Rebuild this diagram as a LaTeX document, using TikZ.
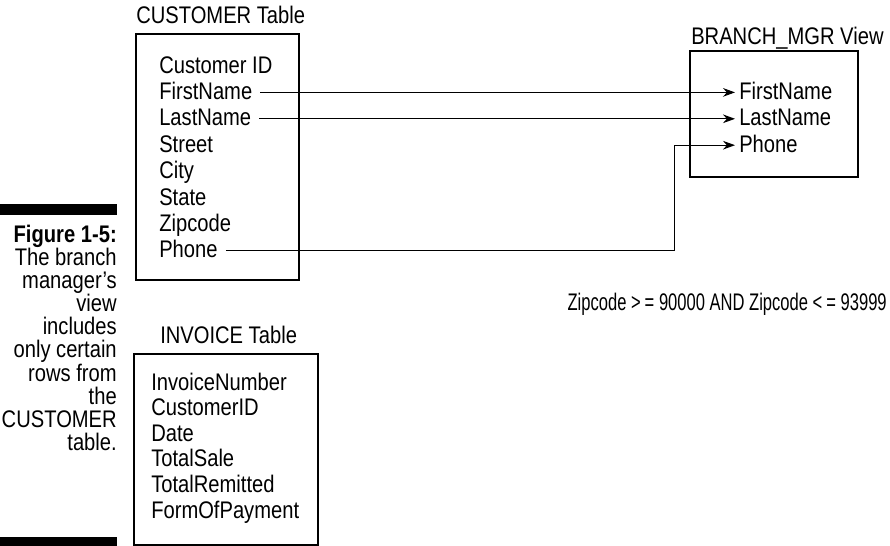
\documentclass[tikz,border=0pt]{standalone}
\usepackage{fontspec}
\setmainfont{Liberation Sans}[FakeStretch=0.84]
\newfontfamily\condfont{Liberation Sans}[FakeStretch=0.69, Ligatures=TeX]
\usetikzlibrary{positioning,arrows.meta,fit,calc}

\begin{document}
\begin{tikzpicture}[
    x=0.75pt, y=-0.75pt,
    font=\fontsize{18}{19}\selectfont,
    tbl/.style={rectangle, draw=black, line width=0.9pt, inner sep=0pt},
    title/.style={anchor=base west, inner sep=0pt},
    fld/.style={anchor=base west, inner sep=3pt, text height=11pt, text depth=0.5pt},
    link/.style={line width=0.75pt, shorten <=3pt, -{Stealth[length=9pt, width=6.5pt]}},
    caption/.style={align=right, anchor=north east, inner sep=0pt, font=\fontsize{18}{17.3}\selectfont},
    bar/.style={fill=black},
    ]
    \useasboundingbox (0,0) rectangle (890,546);

    %% side caption
    \fill[bar] (0,204) rectangle (117,215);
    \node[caption] (cap) at (117,225) {\textbf{Figure 1-5:}\\The branch\\manager’s\\view\\includes\\only certain\\rows from\\the\\CUSTOMER\\table.};
    \fill[bar] (0,537) rectangle (117,546);

    %% customer table
    \node[tbl, fit={(136,34) (299,280)}] (cust) {};
    \node[title] (cust_lbl) at (136,23) {CUSTOMER Table};
    \node[fld] (c_id)    at (155,73)    {Customer ID};
    \node[fld] (c_first) at (155,99.4)  {FirstName};
    \node[fld] (c_last)  at (155,125.8) {LastName};
    \node[fld] (c_str)   at (155,152.2) {Street};
    \node[fld] (c_city)  at (155,178.6) {City};
    \node[fld] (c_state) at (155,205)   {State};
    \node[fld] (c_zip)   at (155,231.4) {Zipcode};
    \node[fld] (c_phone) at (155,257.8) {Phone};

    %% invoice table
    \node[tbl, fit={(134,354) (318,545)}] (inv) {};
    \node[title] (inv_lbl) at (160,343) {INVOICE Table};
    \node[fld] (i_num)   at (147,390)   {InvoiceNumber};
    \node[fld] (i_cust)  at (147,415.6) {CustomerID};
    \node[fld] (i_date)  at (147,441.2) {Date};
    \node[fld] (i_sale)  at (147,466.8) {TotalSale};
    \node[fld] (i_rem)   at (147,492.4) {TotalRemitted};
    \node[fld] (i_pay)   at (147,518)   {FormOfPayment};

    %% branch manager view
    \node[tbl, fit={(690,51) (858,177)}] (view) {};
    \node[title] (view_lbl) at (691,44) {BRANCH\_MGR View};
    \node[fld] (v_first) at (735,99.4)  {FirstName};
    \node[fld] (v_last)  at (735,125.8) {LastName};
    \node[fld] (v_phone) at (735,152.2) {Phone};

    %% selection condition
    \node[anchor=base east, inner sep=0pt, font=\condfont\fontsize{18}{19}\selectfont] (cond) at (887,310) {Zipcode >\,= 90000 AND Zipcode <\,= 93999};

    %% columns taken into the view
    \draw[link] (c_first.east) -- (v_first.west);
    \draw[link] (c_last.east)  -- (v_last.west);
    \draw[link] (c_phone.east) -| ($(v_phone.west)+(-61,0)$) -- (v_phone.west);

\end{tikzpicture}
\end{document}
